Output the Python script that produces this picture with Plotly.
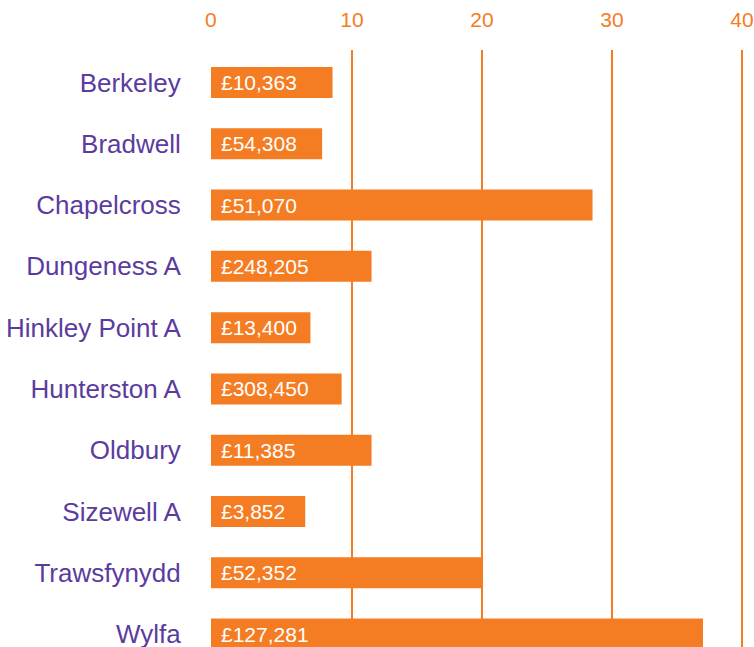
import plotly.graph_objects as go

sites = ["Berkeley", "Bradwell", "Chapelcross", "Dungeness A", "Hinkley Point A",
         "Hunterston A", "Oldbury", "Sizewell A", "Trawsfynydd", "Wylfa"]
values = [8.5, 7.7, 28.5, 11.5, 6.8, 9.2, 11.5, 6.4, 20.0, 37.0]
costs = ["£10,363", "£54,308", "£51,070", "£248,205", "£13,400",
         "£308,450", "£11,385", "£3,852", "£52,352", "£127,281"]
tick_vals = [10, 20, 30, 40]
tick_text = ["10", "20", "30", "40"]

ORANGE = "#F47C22"
PURPLE = "#5B3C9E"
XMIN, XMAX = -0.85, 40.23
FONT = "Liberation Sans, Arial, sans-serif"

fig = go.Figure()
fig.add_trace(go.Bar(
    y=sites,
    x=[v - XMIN for v in values],
    base=XMIN,
    orientation="h",
    marker=dict(color=ORANGE, line=dict(width=0)),
    hoverinfo="skip",
))

annotations = []
for s, c in zip(sites, costs):
    annotations.append(dict(
        x=XMIN, y=s, xref="x", yref="y", text=c, showarrow=False,
        xanchor="left", yanchor="middle", xshift=8,
        font=dict(family=FONT, size=21, color="white"),
    ))
annotations.append(dict(
    x=XMIN, y=1, xref="x", yref="paper", text="0", showarrow=False,
    xanchor="center", yanchor="bottom", yshift=17,
    font=dict(family=FONT, size=21, color=ORANGE),
))

fig.update_layout(
    width=754, height=647,
    margin=dict(l=211, r=9, t=50, b=0, autoexpand=False),
    paper_bgcolor="white", plot_bgcolor="white",
    showlegend=False,
    bargap=0.494,
    annotations=annotations,
    font=dict(family=FONT),
    xaxis=dict(
        side="top", range=[XMIN, XMAX], automargin=False,
        tickvals=tick_vals, ticktext=tick_text,
        showgrid=True, gridcolor=ORANGE, gridwidth=1.5,
        zeroline=False, showline=False, ticks="",
        ticklabelstandoff=18,
        tickfont=dict(family=FONT, size=21, color=ORANGE),
    ),
    yaxis=dict(
        range=[9.21, -0.53], automargin=False,
        showgrid=False, zeroline=False, showline=False,
        ticks="outside", ticklen=24, tickcolor="rgba(0,0,0,0)",
        tickfont=dict(family=FONT, size=26, color=PURPLE),
    ),
)

fig.write_html(
    "out.html",
    config={"displayModeBar": False},
    post_script="document.body.style.margin='0';document.body.style.overflow='hidden';",
)
